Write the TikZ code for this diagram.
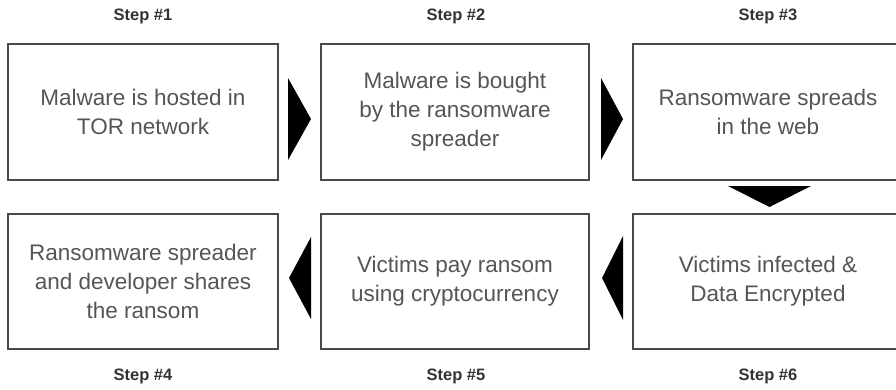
\documentclass[tikz,border=0pt]{standalone}
\usepackage{fontspec}
\setmainfont{Liberation Sans}
\begin{document}
\begin{tikzpicture}[x=1pt,y=-1pt,
  stepbox/.style={draw=boxgray,line width=1.2pt,minimum width=270pt,minimum height=136pt,inner sep=0pt,
    align=center,text=textgray,font=\fontsize{22.5}{29}\selectfont},
  steplabel/.style={text=labelgray,font=\fontsize{16.5}{20}\selectfont\bfseries,inner sep=0pt},
  flowarrow/.style={fill=black,draw=none}]
\definecolor{boxgray}{HTML}{4A4A4A}
\definecolor{textgray}{HTML}{555555}
\definecolor{labelgray}{HTML}{333333}
\useasboundingbox (0,0) rectangle (896,389);
\begin{scope}
\clip (0,0) rectangle (896,389);
\node[stepbox] (b1) at (143,112) {Malware is hosted in\\TOR network};
\node[stepbox,minimum width=268pt] (b2) at (455,112) {Malware is bought\\by the ransomware\\spreader};
\node[stepbox] (b3) at (768,112) {Ransomware spreads\\in the web};
\node[stepbox,minimum height=135pt] (b4) at (143,281.5) {Ransomware spreader\\and developer shares\\the ransom};
\node[stepbox,minimum width=268pt,minimum height=135pt] (b5) at (455,281.5) {Victims pay ransom\\using cryptocurrency};
\node[stepbox,minimum height=135pt] (b6) at (768,281.5) {Victims infected \&\\Data Encrypted};
\end{scope}
\node[steplabel] (l1) at (143,16.5) {Step \#1};
\node[steplabel] (l2) at (456,16.5) {Step \#2};
\node[steplabel] (l3) at (768,16.5) {Step \#3};
\node[steplabel] (l4) at (143,376.5) {Step \#4};
\node[steplabel] (l5) at (456,376.5) {Step \#5};
\node[steplabel] (l6) at (768,376.5) {Step \#6};
% arrows
\fill[flowarrow] (288,78) -- (311,119) -- (288,160) -- cycle;
\fill[flowarrow] (601,78) -- (623,119) -- (601,160) -- cycle;
\fill[flowarrow] (728,186) -- (811,186) -- (769.5,207) -- cycle;
\fill[flowarrow] (623,236) -- (602,278) -- (623,320) -- cycle;
\fill[flowarrow] (311,237) -- (289,278) -- (311,319) -- cycle;
\end{tikzpicture}
\end{document}
